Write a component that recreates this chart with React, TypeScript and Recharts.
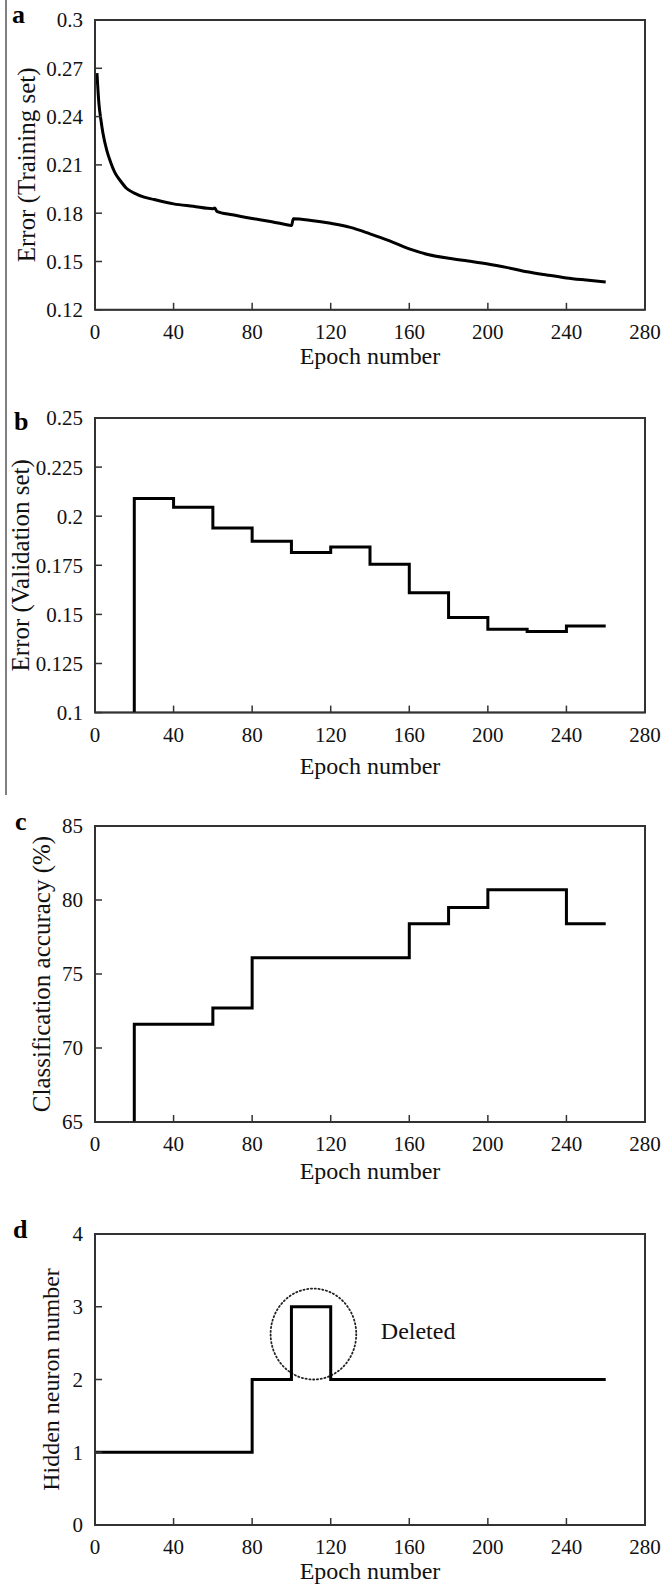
import React from 'react';
import { LineChart, Line, XAxis, YAxis, ReferenceArea, ReferenceDot, Label } from 'recharts';

const FONT = '"Liberation Serif", "Times New Roman", Times, serif';
const INK = '#111';
const AXIS = '#333';

const epochTicks = [0, 40, 80, 120, 160, 200, 240, 280];

// (a) training-set error
const trainEpochs = [1, 2, 3, 4, 6, 8, 10, 13, 16, 20, 25, 30, 40, 50, 60, 61, 62, 70, 80, 90, 99, 100, 101, 110, 120, 130, 140, 150, 160, 170, 180, 190, 200, 210, 220, 230, 240, 250, 260];
const trainError = [0.267, 0.248, 0.238, 0.23, 0.219, 0.2115, 0.2055, 0.2, 0.1955, 0.1925, 0.19, 0.1885, 0.1858, 0.1843, 0.1828, 0.1832, 0.1812, 0.179, 0.1767, 0.1747, 0.1725, 0.1723, 0.1765, 0.1755, 0.1737, 0.1712, 0.1672, 0.1628, 0.1578, 0.1542, 0.152, 0.1503, 0.1485, 0.1462, 0.1436, 0.1416, 0.1398, 0.1385, 0.1373];
const trainTicks = [0.12, 0.15, 0.18, 0.21, 0.24, 0.27, 0.3];

// (b) validation-set error
const valEpochs = [20, 20, 40, 60, 80, 100, 120, 140, 160, 180, 200, 220, 240, 260];
const valError = [0.1, 0.209, 0.2045, 0.194, 0.1872, 0.1815, 0.1843, 0.1755, 0.161, 0.1484, 0.1424, 0.1413, 0.1441, 0.1441];
const valTicks = [0.1, 0.125, 0.15, 0.175, 0.2, 0.225, 0.25];

// (c) classification accuracy
const accEpochs = [20, 20, 60, 80, 160, 180, 200, 240, 260];
const accuracy = [65, 71.6, 72.7, 76.1, 78.4, 79.5, 80.7, 78.4, 78.4];
const accTicks = [65, 70, 75, 80, 85];

// (d) hidden neurons
const hiddenEpochs = [0, 80, 100, 120, 260];
const hiddenNeurons = [1, 2, 3, 2, 2];
const hiddenTicks = [0, 1, 2, 3, 4];

// dotted ring round the deleted neuron, and its note
const deletedEpochRange = [89.4, 133];
const deletedValueRange = [2.0, 3.25];
const deletedNote = { epoch: 164.5, value: 2.55, text: 'Deleted' };

const toRows = (xs: number[], ys: number[]) => xs.map((epoch, i) => ({ epoch, value: ys[i] }));

type PanelProps = {
  plotTop: number;
  plotBottom: number;
  rows: { epoch: number; value: number }[];
  curve: 'monotone' | 'stepAfter';
  yDomain: [number, number];
  yTicks: number[];
  yLabel: string;
  yLabelX: number;
  yLabelSize: number;
  xLabelGap: number;
  children?: React.ReactNode;
};

function Panel({ plotTop, plotBottom, rows, curve, yDomain, yTicks, yLabel, yLabelX, yLabelSize, xLabelGap, children }: PanelProps) {
  const top = plotTop - 20;
  const height = plotBottom - top + 75;
  return (
    <div style={{ position: 'absolute', left: 0, top }}>
      <LineChart width={663} height={height} data={rows} margin={{ top: 20, right: 18, bottom: 0, left: 0 }}>
        <XAxis
          type="number"
          dataKey="epoch"
          domain={[0, 280]}
          ticks={epochTicks}
          interval={0}
          allowDataOverflow
          height={75}
          tickSize={-7}
          tickMargin={21}
          stroke={AXIS}
          strokeWidth={1.5}
          tick={{ fill: INK, fontSize: 21, fontFamily: FONT }}
        >
          <Label
            content={(p: any) => {
              const vb = p.viewBox;
              return (
                <text x={vb.x + vb.width / 2} y={vb.y + xLabelGap} textAnchor="middle" fontFamily={FONT} fontSize={24} fill={INK}>
                  Epoch number
                </text>
              );
            }}
          />
        </XAxis>
        <YAxis
          type="number"
          domain={yDomain}
          ticks={yTicks}
          interval={0}
          allowDataOverflow
          width={95}
          tickSize={-7}
          tickMargin={19}
          stroke={AXIS}
          strokeWidth={1.5}
          tick={{ fill: INK, fontSize: 21, fontFamily: FONT }}
        >
          <Label
            content={(p: any) => {
              const vb = p.viewBox;
              const cy = vb.y + vb.height / 2;
              return (
                <text
                  x={yLabelX}
                  y={cy}
                  transform={`rotate(-90 ${yLabelX} ${cy})`}
                  textAnchor="middle"
                  dominantBaseline="central"
                  fontFamily={FONT}
                  fontSize={yLabelSize}
                  fill={INK}
                >
                  {yLabel}
                </text>
              );
            }}
          />
        </YAxis>
        <ReferenceArea x1={0} x2={280} y1={yDomain[0]} y2={yDomain[1]} fill="none" stroke={AXIS} strokeWidth={2} />
        {children}
        <Line
          type={curve}
          dataKey="value"
          stroke="#000"
          strokeWidth={3}
          dot={false}
          activeDot={false}
          isAnimationActive={false}
        />
      </LineChart>
    </div>
  );
}

export default function App() {
  return (
    <div style={{ position: 'absolute', left: 0, top: 0, width: 663, height: 1584, background: '#fff', overflow: 'hidden' }}>
      <Panel
        plotTop={19.5}
        plotBottom={309.3}
        rows={toRows(trainEpochs, trainError)}
        curve="monotone"
        yDomain={[0.12, 0.3]}
        yTicks={trainTicks}
        yLabel="Error (Training set)"
        yLabelX={27}
        yLabelSize={25}
        xLabelGap={54}
      />
      <Panel
        plotTop={417.7}
        plotBottom={712.3}
        rows={toRows(valEpochs, valError)}
        curve="stepAfter"
        yDomain={[0.1, 0.25]}
        yTicks={valTicks}
        yLabel="Error (Validation set)"
        yLabelX={20}
        yLabelSize={25}
        xLabelGap={61}
      />
      <Panel
        plotTop={825.7}
        plotBottom={1121.7}
        rows={toRows(accEpochs, accuracy)}
        curve="stepAfter"
        yDomain={[65, 85]}
        yTicks={accTicks}
        yLabel="Classification accuracy (%)"
        yLabelX={41}
        yLabelSize={25}
        xLabelGap={57}
      />
      <Panel
        plotTop={1234}
        plotBottom={1525}
        rows={toRows(hiddenEpochs, hiddenNeurons)}
        curve="stepAfter"
        yDomain={[0, 4]}
        yTicks={hiddenTicks}
        yLabel="Hidden neuron number"
        yLabelX={51}
        yLabelSize={24}
        xLabelGap={54}
      >
        <ReferenceArea
          x1={deletedEpochRange[0]}
          x2={deletedEpochRange[1]}
          y1={deletedValueRange[0]}
          y2={deletedValueRange[1]}
          shape={(p: any) => (
            <ellipse
              cx={p.x + p.width / 2}
              cy={p.y + p.height / 2}
              rx={Math.abs(p.width) / 2}
              ry={Math.abs(p.height) / 2}
              fill="none"
              stroke="#222"
              strokeWidth={1.8}
              strokeDasharray="1.2 2.6"
              strokeLinecap="round"
            />
          )}
        />
        <ReferenceDot
          x={deletedNote.epoch}
          y={deletedNote.value}
          r={0}
          fill="none"
          stroke="none"
          label={{
            content: (p: any) => {
              const vb = p.viewBox;
              return (
                <text x={vb.x + vb.width / 2} y={vb.y + vb.height / 2} textAnchor="middle" fontFamily={FONT} fontSize={24} fill={INK}>
                  {deletedNote.text}
                </text>
              );
            },
          }}
        />
      </Panel>
      <svg width={663} height={1584} style={{ position: 'absolute', left: 0, top: 0, pointerEvents: 'none' }}>
        <line x1={6} y1={0} x2={6} y2={795} stroke="#555" strokeWidth={1.5} />
        <g fontFamily={FONT} fontWeight="bold" fontSize={26} fill="#000">
          <text x={12} y={23}>a</text>
          <text x={14} y={430}>b</text>
          <text x={15} y={830}>c</text>
          <text x={13} y={1238}>d</text>
        </g>
      </svg>
    </div>
  );
}
